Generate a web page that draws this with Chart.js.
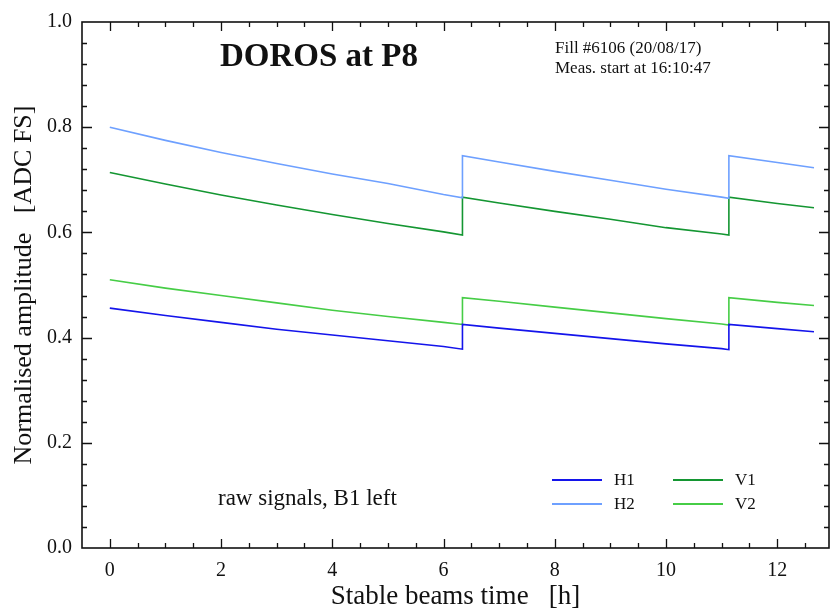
<!DOCTYPE html>
<html>
<head>
<meta charset="utf-8">
<script src="https://cdn.jsdelivr.net/npm/chart.js@4.4.1/dist/chart.umd.min.js"></script>
<style>
  body { margin: 0; background: #fff; }
  #box { width: 830px; height: 613px; }
</style>
</head>
<body>
<div id="box"><canvas id="grafico"></canvas></div>
<script>
// time in hours since stable beams (repeated x = refill jump)
const tempos = [0, 1, 2, 3, 4, 5, 6, 6.34, 6.34, 7, 8, 9, 10, 11, 11.13, 11.13, 12, 12.66];
const H1 = [0.456, 0.442, 0.429, 0.416, 0.405, 0.394, 0.383, 0.378, 0.425, 0.418, 0.408, 0.398, 0.388, 0.379, 0.377, 0.425, 0.417, 0.411];
const H2 = [0.800, 0.775, 0.752, 0.731, 0.711, 0.693, 0.672, 0.666, 0.746, 0.734, 0.716, 0.699, 0.682, 0.667, 0.665, 0.746, 0.733, 0.723];
const V1 = [0.714, 0.692, 0.671, 0.652, 0.634, 0.617, 0.601, 0.595, 0.667, 0.656, 0.640, 0.625, 0.609, 0.597, 0.595, 0.667, 0.655, 0.647];
const V2 = [0.510, 0.494, 0.480, 0.466, 0.452, 0.440, 0.429, 0.425, 0.476, 0.469, 0.458, 0.447, 0.436, 0.426, 0.424, 0.476, 0.467, 0.461];

const rotulosX = [0, 2, 4, 6, 8, 10, 12];
const rotulosY = [0, 0.2, 0.4, 0.6, 0.8, 1.0];

const series = [
  { nome: "H1", valores: H1, cor: "rgb(20,20,235)" },
  { nome: "H2", valores: H2, cor: "rgb(110,160,255)" },
  { nome: "V1", valores: V1, cor: "rgb(20,150,50)" },
  { nome: "V2", valores: V2, cor: "rgb(70,205,70)" }
];

const serif = "'Liberation Serif', 'DejaVu Serif', serif";

// frame, inward ticks, legend and notes
const moldura = {
  id: "moldura",
  afterDraw(chart) {
    const c = chart.ctx, a = chart.chartArea;
    const sx = chart.scales.x, sy = chart.scales.y;
    c.save();
    c.strokeStyle = "#111";
    c.lineWidth = 1.6;
    c.strokeRect(a.left, a.top, a.right - a.left, a.bottom - a.top);
    c.lineWidth = 1.3;
    c.beginPath();
    for (let v = 0; v <= 12.5; v += 0.5) {
      const px = Math.round(sx.getPixelForValue(v)) + 0.5;
      const L = (v % 2 === 0) ? 9 : 5;
      c.moveTo(px, a.bottom); c.lineTo(px, a.bottom - L);
      c.moveTo(px, a.top); c.lineTo(px, a.top + L);
    }
    for (let k = 1; k < 25; k++) {
      const py = Math.round(sy.getPixelForValue(k * 0.04)) + 0.5;
      const L = (k % 5 === 0) ? 10 : 5;
      c.moveTo(a.left, py); c.lineTo(a.left + L, py);
      c.moveTo(a.right, py); c.lineTo(a.right - L, py);
    }
    c.stroke();

    // legend
    const pos = [[552, 480], [552, 504], [673, 480], [673, 504]];
    c.font = "17px " + serif;
    c.textBaseline = "middle";
    c.fillStyle = "#111";
    series.forEach((s, k) => {
      const p = pos[k];
      c.strokeStyle = s.cor;
      c.lineWidth = 2;
      c.beginPath();
      c.moveTo(p[0], p[1]); c.lineTo(p[0] + 50, p[1]);
      c.stroke();
      c.fillText(s.nome, p[0] + 62, p[1] + 1);
    });

    c.textBaseline = "alphabetic";
    c.font = "bold 33px " + serif;
    c.fillText("DOROS at P8", 220, 66);
    c.font = "17px " + serif;
    c.fillText("Fill #6106 (20/08/17)", 555, 53);
    c.fillText("Meas. start at 16:10:47", 555, 73);
    c.font = "23px " + serif;
    c.fillText("raw signals, B1 left", 218, 505);
    c.restore();
  }
};

var ctx = document.getElementById("grafico").getContext("2d");
var chart = new Chart(ctx, {
  type: "line",
  data: {
    datasets: series.map(s => ({
      label: s.nome,
      data: tempos.map((t, i) => ({ x: t, y: s.valores[i] })),
      borderColor: s.cor,
      backgroundColor: s.cor,
      borderWidth: 1.6,
      pointRadius: 0,
      tension: 0,
      fill: false
    }))
  },
  options: {
    responsive: true,
    maintainAspectRatio: false,
    animation: false,
    layout: { padding: { top: 17, right: 1, left: 0, bottom: 0 } },
    plugins: { legend: { display: false }, tooltip: { enabled: false } },
    scales: {
      x: {
        type: "linear",
        min: -0.5,
        max: 12.93,
        grid: { display: false, drawTicks: false },
        border: { display: false },
        afterBuildTicks: s => { s.ticks = rotulosX.map(v => ({ value: v })); },
        afterFit: s => { s.height = 65; },
        ticks: { color: "#111", font: { family: serif, size: 20 }, padding: 11, maxRotation: 0 },
        title: { display: true, text: "Stable beams time   [h]", color: "#111",
                 font: { family: serif, size: 27 }, padding: { top: 0, bottom: 0 } }
      },
      y: {
        min: 0,
        max: 1,
        grid: { display: false, drawTicks: false },
        border: { display: false },
        afterBuildTicks: s => { s.ticks = rotulosY.map(v => ({ value: v })); },
        afterFit: s => { s.width = 82; },
        ticks: { color: "#111", font: { family: serif, size: 20 }, padding: 10,
                 callback: v => v.toFixed(1) },
        title: { display: true, text: "Normalised amplitude   [ADC FS]", color: "#111",
                 font: { family: serif, size: 26 }, padding: { top: 9, bottom: 0 } }
      }
    }
  },
  plugins: [moldura]
});
</script>
</body>
</html>
